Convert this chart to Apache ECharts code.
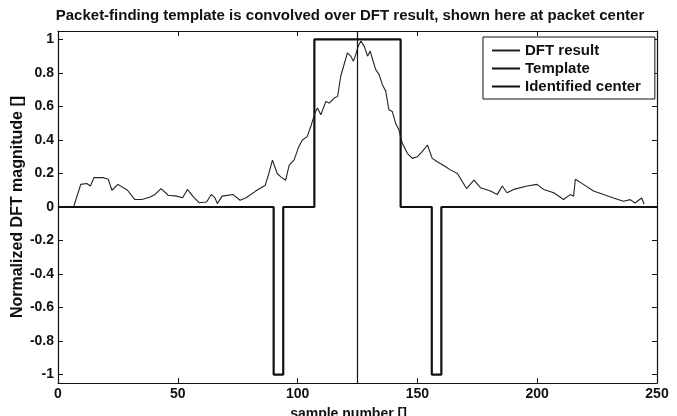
<!DOCTYPE html>
<html>
<head>
<meta charset="utf-8">
<script src="https://cdn.jsdelivr.net/npm/echarts@6/dist/echarts.min.js"></script>
<style>html,body{margin:0;padding:0;background:#fff;}#c{width:677px;height:416px;}</style>
</head>
<body>
<div id="c"></div>
<script>
// ---- data ----
var xTicks = [0, 50, 100, 150, 200, 250];
var yTicks = [-1, -0.8, -0.6, -0.4, -0.2, 0, 0.2, 0.4, 0.6, 0.8, 1];
var dftResult = [
  [6.5,0],[9.5,0.135],[12,0.14],[13.5,0.125],[15,0.175],[19,0.175],[21,0.165],[22.5,0.1],[25,0.135],[29,0.1],
  [32,0.045],[35,0.045],[38.5,0.06],[40.5,0.075],[43,0.11],[46,0.07],[49.5,0.065],[52,0.055],[54,0.105],[56.5,0.06],
  [59,0.025],[62,0.03],[64,0.075],[65.5,0.055],[66.5,0.02],[68.5,0.065],[73,0.075],[76,0.04],[78.5,0.055],[82.5,0.095],
  [86.5,0.13],[88,0.2],[89.5,0.28],[91.5,0.2],[93,0.18],[95,0.16],[96.5,0.25],[98.5,0.28],[100.5,0.36],[102,0.40],
  [104,0.42],[105.5,0.48],[107.2,0.56],[108.3,0.59],[109.7,0.55],[111.8,0.63],[113.2,0.62],[115.3,0.65],[116.7,0.66],[118,0.78],
  [119.4,0.85],[120.8,0.92],[122.2,0.90],[123.3,0.87],[124.3,0.91],[125.3,0.96],[126.4,0.99],[127.8,0.96],[129.2,0.90],[130.3,0.93],
  [131.3,0.88],[132.6,0.82],[134,0.79],[135.4,0.73],[136.8,0.69],[138.1,0.58],[139.5,0.57],[140.9,0.50],[142.3,0.46],[143.7,0.38],
  [145.8,0.32],[147.9,0.29],[150,0.30],[152,0.33],[154.2,0.37],[156.2,0.29],[158.3,0.27],[161.8,0.24],[163.9,0.22],[166.7,0.20],
  [170.5,0.11],[173.6,0.16],[176.3,0.115],[180.5,0.095],[183.3,0.074],[185.4,0.125],[187.4,0.085],[190.2,0.105],[195.8,0.125],[199.9,0.135],
  [202.7,0.105],[206.9,0.085],[211,0.045],[213.8,0.074],[215.2,0.064],[215.9,0.165],[219.3,0.135],[223.5,0.095],[227.7,0.074],[231.8,0.054],
  [236,0.034],[238.8,0.044],[240.8,0.024],[243.6,0.054],[244.6,0.018]
];
var template = [
  [0,0],[90,0],[90,-1],[94,-1],[94,0],[107,0],[107,1],[143,1],[143,0],
  [156,0],[156,-1],[160,-1],[160,0],[250,0]
];
var centerX = 125;
var identifiedCenter = [[centerX,-1.05],[centerX,1.05]];
var seriesNames = ['DFT result', 'Template', 'Identified center'];
var titleText = 'Packet-finding template is convolved over DFT result, shown here at packet center';
var xName = 'sample number []';
var yName = 'Normalized DFT magnitude []';

var FONT = '"Liberation Sans", Arial, Helvetica, sans-serif';
var INK = '#111';
var chart = echarts.init(document.getElementById('c'), null, {renderer: 'canvas'});
function boxAxis(extra) {
  return Object.assign({
    type: 'value',
    axisLine: {show: true, onZero: false, lineStyle: {color: INK, width: 1.2}},
    splitLine: {show: false},
    axisLabel: {show: false}
  }, extra);
}
function ticks(vals) {
  return {show: true, inside: true, length: 5, customValues: vals, lineStyle: {color: INK, width: 1}};
}
chart.setOption({
  animation: false,
  backgroundColor: '#fff',
  title: {
    text: titleText, left: 345, top: 3, textAlign: 'center',
    textStyle: {fontFamily: FONT, fontWeight: 'bold', fontSize: 15, color: INK}
  },
  grid: {left: 58, right: 20, top: 31, bottom: 33, outerBoundsMode: 'none', containLabel: false},
  legend: {
    data: seriesNames, orient: 'vertical', left: 483, top: 37,
    backgroundColor: '#fff', borderColor: INK, borderWidth: 1,
    padding: [6, 14, 5, 8], itemGap: 3, itemWidth: 28, itemHeight: 14,
    itemStyle: {opacity: 0},
    textStyle: {fontFamily: FONT, fontWeight: 'bold', fontSize: 15, color: INK}
  },
  xAxis: [
    boxAxis({min: 0, max: 250, position: 'bottom',
      axisLabel: {show: true, margin: 4, fontFamily: FONT, fontWeight: 'bold', fontSize: 14, color: INK,
        customValues: xTicks},
      axisTick: ticks(xTicks),
      name: xName, nameLocation: 'middle', nameGap: 24, nameMoveOverlap: false,
      nameTextStyle: {fontFamily: FONT, fontWeight: 'bold', fontSize: 14, color: INK, padding: [0, 18, 0, 0]}}),
    boxAxis({min: 0, max: 250, position: 'top', axisTick: ticks(xTicks)})
  ],
  yAxis: [
    boxAxis({min: -1.05, max: 1.05, position: 'left',
      axisLabel: {show: true, margin: 4, fontFamily: FONT, fontWeight: 'bold', fontSize: 14, color: INK,
        customValues: yTicks},
      axisTick: ticks(yTicks),
      name: yName, nameLocation: 'middle', nameGap: 32, nameRotate: 90, nameMoveOverlap: false,
      nameTextStyle: {fontFamily: FONT, fontWeight: 'bold', fontSize: 16, color: INK}}),
    boxAxis({min: -1.05, max: 1.05, position: 'right', axisTick: ticks(yTicks)})
  ],
  series: [
    {name: seriesNames[0], type: 'line', data: dftResult, symbol: 'none',
      lineStyle: {color: '#222', width: 1.1}, itemStyle: {color: '#222'}, z: 3},
    {name: seriesNames[1], type: 'line', data: template, symbol: 'none',
      lineStyle: {color: INK, width: 2.2}, itemStyle: {color: INK}, z: 2},
    {name: seriesNames[2], type: 'line', data: identifiedCenter, symbol: 'none',
      lineStyle: {color: INK, width: 1.2}, itemStyle: {color: INK}, z: 4}
  ]
});
</script>
</body>
</html>
